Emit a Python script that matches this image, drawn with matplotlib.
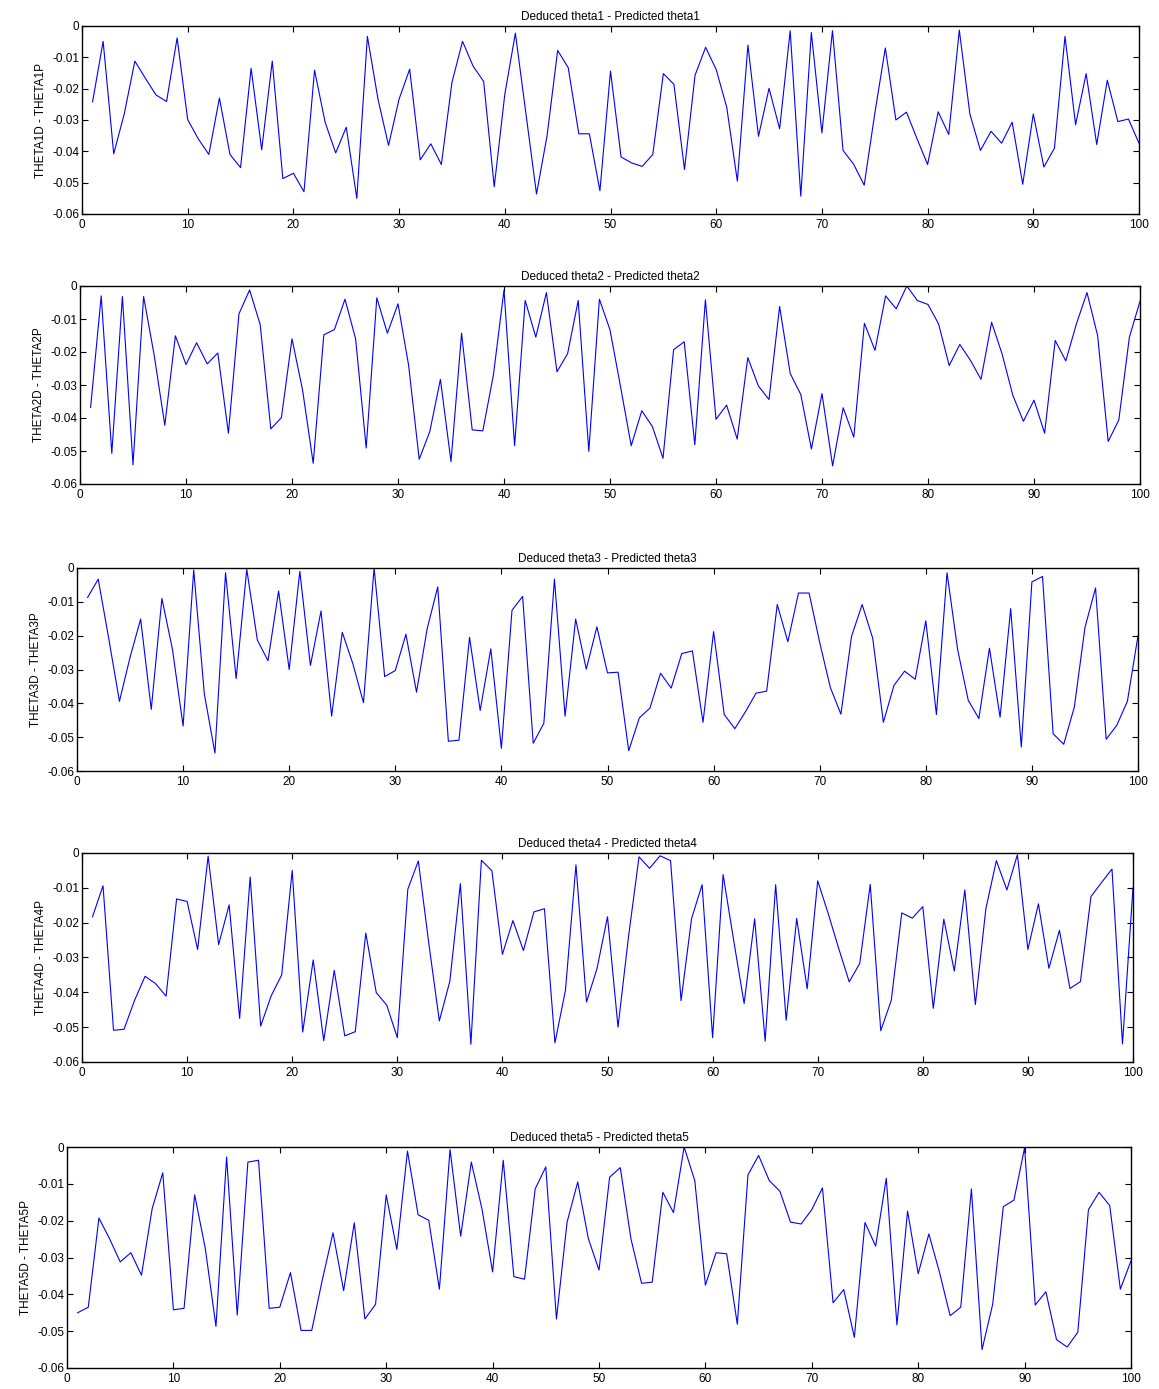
import matplotlib
matplotlib.use("Agg")
import matplotlib.pyplot as plt

plt.rcParams['font.family'] = ['Liberation Sans', 'DejaVu Sans']

x = list(range(1, 101))

d1 = [-0.0242, -0.0049, -0.0408, -0.028, -0.0112, -0.0167, -0.022, -0.0241, -0.0038, -0.0299,
      -0.036, -0.041, -0.023, -0.041, -0.0452, -0.0135, -0.0395, -0.0112, -0.0487, -0.047,
      -0.0529, -0.0141, -0.0307, -0.0405, -0.0323, -0.055, -0.0033, -0.0233, -0.0381, -0.0233,
      -0.0138, -0.0427, -0.0376, -0.0442, -0.018, -0.0049, -0.0128, -0.0177, -0.0513, -0.0218,
      -0.0023, -0.028, -0.0536, -0.035, -0.0078, -0.0133, -0.0344, -0.0344, -0.0526, -0.0144,
      -0.0418, -0.0437, -0.0448, -0.041, -0.0152, -0.0186, -0.0458, -0.0157, -0.0068, -0.0139,
      -0.026, -0.0495, -0.0061, -0.0352, -0.0199, -0.0328, -0.0015, -0.0543, -0.0021, -0.0341,
      -0.0015, -0.0397, -0.0441, -0.0508, -0.028, -0.007, -0.03, -0.0275, -0.036, -0.0442,
      -0.0274, -0.0346, -0.0013, -0.0281, -0.0397, -0.0336, -0.0374, -0.0307, -0.0505, -0.0281,
      -0.045, -0.039, -0.0033, -0.0315, -0.0152, -0.0378, -0.0173, -0.0305, -0.0297, -0.0374]

d2 = [-0.0368, -0.003, -0.0507, -0.0032, -0.0542, -0.0032, -0.021, -0.0422, -0.0151, -0.0238,
      -0.0172, -0.0236, -0.0203, -0.0446, -0.0084, -0.0012, -0.0117, -0.0433, -0.0399, -0.016,
      -0.0316, -0.0537, -0.0148, -0.0132, -0.004, -0.016, -0.0491, -0.0036, -0.0143, -0.0054,
      -0.024, -0.0525, -0.0441, -0.0283, -0.0532, -0.0143, -0.0436, -0.0439, -0.027, -0.0012,
      -0.0484, -0.0044, -0.0155, -0.002, -0.026, -0.0205, -0.0044, -0.0501, -0.004, -0.0133,
      -0.0306, -0.0484, -0.0378, -0.0426, -0.0522, -0.0193, -0.0169, -0.0481, -0.0042, -0.0404,
      -0.0361, -0.0464, -0.0217, -0.0303, -0.0344, -0.0062, -0.0265, -0.0329, -0.0494, -0.0326,
      -0.0545, -0.0369, -0.0458, -0.0113, -0.0195, -0.003, -0.0069, 0.0, -0.0044, -0.0056,
      -0.0115, -0.0241, -0.0177, -0.0225, -0.0283, -0.011, -0.0207, -0.0331, -0.041, -0.0346,
      -0.0446, -0.0165, -0.0227, -0.0115, -0.002, -0.015, -0.0471, -0.0406, -0.0155, -0.0046]

d3 = [-0.0087, -0.0033, -0.021, -0.0394, -0.0264, -0.0151, -0.0418, -0.009, -0.0241, -0.0467,
      -0.0006, -0.0372, -0.0547, -0.0014, -0.0327, -0.0004, -0.0213, -0.0274, -0.0068, -0.03,
      -0.001, -0.0288, -0.0127, -0.0438, -0.019, -0.0283, -0.0398, 0.0, -0.0321, -0.0303,
      -0.0196, -0.0367, -0.018, -0.0056, -0.0512, -0.0509, -0.0205, -0.0421, -0.0239, -0.0533,
      -0.0125, -0.0084, -0.0518, -0.0459, -0.0033, -0.0438, -0.0151, -0.0299, -0.0174, -0.031,
      -0.0308, -0.054, -0.0443, -0.0414, -0.0311, -0.0355, -0.0253, -0.0245, -0.0456, -0.0188,
      -0.0433, -0.0475, -0.0425, -0.037, -0.0364, -0.0108, -0.0218, -0.0074, -0.0074, -0.022,
      -0.0353, -0.0432, -0.0202, -0.0108, -0.0208, -0.0456, -0.0347, -0.0305, -0.0329, -0.0156,
      -0.0433, -0.0014, -0.0241, -0.0391, -0.0445, -0.0237, -0.0441, -0.012, -0.0529, -0.0041,
      -0.0025, -0.049, -0.0521, -0.0411, -0.0176, -0.0059, -0.0506, -0.0465, -0.0394, -0.02]

d4 = [-0.0183, -0.0094, -0.0509, -0.0506, -0.0423, -0.0354, -0.0375, -0.0411, -0.0132, -0.0139,
      -0.0277, -0.0009, -0.0263, -0.0149, -0.0475, -0.0069, -0.0497, -0.041, -0.035, -0.005,
      -0.0514, -0.0307, -0.0539, -0.0337, -0.0525, -0.0513, -0.023, -0.0401, -0.0437, -0.053,
      -0.0104, -0.0023, -0.026, -0.0482, -0.0368, -0.0088, -0.0549, -0.0021, -0.0051, -0.0291,
      -0.0194, -0.028, -0.0169, -0.016, -0.0545, -0.0394, -0.0034, -0.0428, -0.0332, -0.0183,
      -0.05, -0.024, -0.0011, -0.0044, -0.0008, -0.0022, -0.0424, -0.0188, -0.0091, -0.053,
      -0.0062, -0.025, -0.0432, -0.0189, -0.054, -0.0091, -0.048, -0.0188, -0.039, -0.008,
      -0.0174, -0.0274, -0.037, -0.0317, -0.009, -0.051, -0.0423, -0.0172, -0.0187, -0.0154,
      -0.0446, -0.019, -0.0339, -0.0106, -0.0435, -0.016, -0.0022, -0.0106, -0.0005, -0.0277,
      -0.0146, -0.0331, -0.0222, -0.0389, -0.0369, -0.0125, -0.0085, -0.0046, -0.0548, -0.0099]

d5 = [-0.045, -0.0435, -0.0193, -0.0249, -0.0312, -0.0287, -0.0348, -0.0168, -0.007, -0.0442,
      -0.0438, -0.013, -0.0276, -0.0487, -0.0027, -0.0456, -0.0041, -0.0036, -0.0438, -0.0435,
      -0.0341, -0.0498, -0.0498, -0.036, -0.0233, -0.039, -0.0206, -0.0467, -0.0427, -0.013,
      -0.0278, -0.0011, -0.0184, -0.0199, -0.0386, -0.0007, -0.0242, -0.0041, -0.0168, -0.0339,
      -0.0036, -0.0352, -0.0359, -0.0114, -0.0054, -0.0467, -0.0204, -0.0095, -0.0249, -0.0334,
      -0.0082, -0.0056, -0.0249, -0.037, -0.0367, -0.0123, -0.0178, 0.0, -0.0091, -0.0375,
      -0.0287, -0.029, -0.0481, -0.0076, -0.0023, -0.0091, -0.012, -0.0204, -0.0209, -0.017,
      -0.0111, -0.0423, -0.0387, -0.0517, -0.0205, -0.0269, -0.0085, -0.0483, -0.0174, -0.0344,
      -0.0236, -0.034, -0.0458, -0.0435, -0.0114, -0.055, -0.0427, -0.0162, -0.0144, -0.0002,
      -0.0429, -0.0393, -0.0523, -0.0543, -0.0503, -0.017, -0.0123, -0.0159, -0.0386, -0.0309]

series = [d1, d2, d3, d4, d5]
titles = ['Deduced theta%d - Predicted theta%d' % (k, k) for k in range(1, 6)]
ylabels = ['THETA%dD - THETA%dP' % (k, k) for k in range(1, 6)]
xticks = list(range(0, 101, 10))
yticks = [0, -0.01, -0.02, -0.03, -0.04, -0.05, -0.06]
ytick_labels = ['0', '-0.01', '-0.02', '-0.03', '-0.04', '-0.05', '-0.06']

# axes boxes in pixels: left, right, top, bottom
boxes = [(82, 1139, 26, 214),
         (80, 1140, 286, 484),
         (77, 1138, 568, 771),
         (82, 1133, 853, 1062),
         (67, 1131, 1147, 1368)]

W, H = 1159, 1389
fig = plt.figure(figsize=(W / 100, H / 100), dpi=100)

for d, t, yl, (l, r, tp, b) in zip(series, titles, ylabels, boxes):
    ax = fig.add_axes([l / W, 1 - b / H, (r - l) / W, (b - tp) / H])
    ax.plot(x, d, color='#0000ff', linewidth=0.8)
    ax.set_xlim(0, 100)
    ax.set_ylim(-0.06, 0)
    ax.set_xticks(xticks)
    ax.set_xticklabels([str(v) for v in xticks])
    ax.set_yticks(yticks)
    ax.set_yticklabels(ytick_labels)
    ax.tick_params(direction='in', top=True, right=True, length=4, width=0.8,
                   labelsize=8.5, pad=2)
    ax.tick_params(axis='x', pad=3.5)
    ax.set_title(t, fontsize=8.5, pad=4)
    ax.set_ylabel(yl, fontsize=8.5, labelpad=4)
    for s in ax.spines.values():
        s.set_linewidth(1)

fig.savefig('out.png', dpi=100)
